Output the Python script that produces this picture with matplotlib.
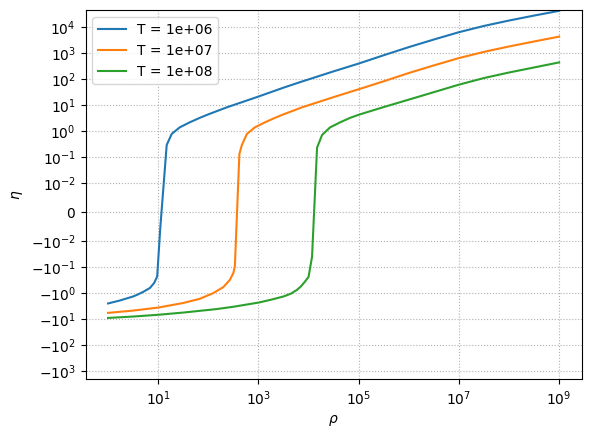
import numpy as np
import matplotlib
matplotlib.use("Agg")
import matplotlib.pyplot as plt
from matplotlib.ticker import NullLocator

# Temperature labels
temps = ["1e+06", "1e+07", "1e+08"]

# rho / eta, one pair of lists per temperature
rho_1e6 = [1.0, 1.714, 3.162, 3.981, 5.012, 6.823, 8.318, 9.55, 10.96, 14.79, 18.62,
           26.92, 42.66, 67.61, 100.0, 234.4, 1.0e3, 3162.0, 6761.0, 3.162e4,
           1.0e5, 3.162e5, 1.0e6, 3.162e6, 1.0e7, 3.162e7, 1.0e8, 3.162e8, 1.0e9]
eta_1e6 = [-2.5, -1.93, -1.35, -1.12, -0.9, -0.64, -0.41, -0.23, -0.006, 0.29, 0.77,
           1.38, 2.15, 3.2, 4.35, 8.1, 21.0, 46.0, 75.0, 195.0,
           388.0, 810.0, 1660.0, 3250.0, 6200.0, 10800.0, 17400.0, 27000.0, 41000.0]

rho_1e7 = [1.0, 3.162, 10.0, 31.62, 67.61, 125.9, 199.5, 269.2, 316.2, 338.8,
           416.9, 467.7, 588.8, 851.1, 1349.0, 2138.0, 3162.0, 7413.0, 3.162e4,
           1.0e5, 3.162e5, 1.0e6, 3.162e6, 1.0e7, 3.162e7, 1.0e8, 3.162e8, 1.0e9]
eta_1e7 = [-5.75, -4.7, -3.6, -2.4, -1.66, -1.0, -0.59, -0.31, -0.17, -0.095,
           0.13, 0.29, 0.77, 1.38, 2.15, 3.2, 4.35, 8.1, 20.0,
           40.0, 81.0, 168.0, 330.0, 630.0, 1090.0, 1760.0, 2730.0, 4200.0]

rho_1e8 = [1.0, 3.162, 10.0, 31.62, 147.9, 316.2, 1023.0, 1778.0, 3162.0, 4467.0,
           5888.0, 7079.0, 8511.0, 1.0e4, 1.175e4, 1.479e4, 1.862e4, 2.692e4, 4.266e4,
           6.761e4, 1.0e5, 1.778e5, 3.162e5, 1.0e6, 3.162e6, 1.0e7, 3.162e7, 1.0e8,
           3.162e8, 1.0e9]
eta_1e8 = [-9.0, -7.95, -6.8, -5.6, -4.1, -3.35, -2.3, -1.8, -1.35, -1.05,
           -0.75, -0.55, -0.36, -0.24, -0.04, 0.23, 0.7, 1.38, 2.15,
           3.2, 4.2, 5.9, 8.3, 16.0, 31.0, 60.0, 108.0, 176.0,
           275.0, 430.0]

yticks = [-1e3, -1e2, -1e1, -1, -1e-1, -1e-2, 0, 1e-2, 1e-1, 1, 1e1, 1e2, 1e3, 1e4]

fig, ax = plt.subplots(figsize=(5.91, 4.38), dpi=100)
fig.subplots_adjust(left=85.5 / 591, right=581.7 / 591,
                    bottom=1 - 379.3 / 438, top=1 - 10.3 / 438)

for T, rho, eta in zip(temps, [rho_1e6, rho_1e7, rho_1e8], [eta_1e6, eta_1e7, eta_1e8]):
    ax.plot(rho, eta, label=f"T = {T}")

ax.set_xscale("log")
ax.set_yscale("symlog", linthresh=1e-2)
ax.set_yticks(yticks)
ax.yaxis.set_minor_locator(NullLocator())
ax.set_ylim(-2.04e3, 4.3e4)
ax.set_xlabel(r"$\rho$")
ax.set_ylabel(r"$\eta$")
ax.grid(True, which="major", ls=":")
ax.legend(loc="upper left")

fig.savefig("out.png", dpi=100)
